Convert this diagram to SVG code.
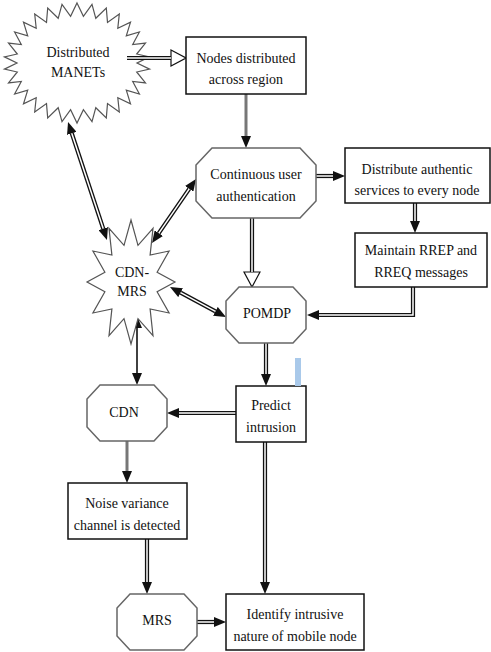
<svg xmlns="http://www.w3.org/2000/svg" width="491" height="652" viewBox="0 0 491 652">
<defs>
<style>
.t{font-family:'Liberation Serif','Times New Roman',serif;font-size:14px;fill:#111;text-anchor:middle}
.box{fill:#fff;stroke:#111;stroke-width:1.5}
.oct{fill:#fff;stroke:#666;stroke-width:1.5}
.star{fill:#fff;stroke:#555;stroke-width:1.2}
.dbl{fill:none;stroke:#111;stroke-width:4.2}
.dbli{fill:none;stroke:#fff;stroke-width:1.5}
.gray{fill:none;stroke:#777;stroke-width:3}
.thin{fill:none;stroke:#111;stroke-width:1.6}
</style>
<marker id="ah" viewBox="0 0 12 10" refX="0" refY="5" markerWidth="12" markerHeight="10" markerUnits="userSpaceOnUse" orient="auto-start-reverse"><path d="M0,0 L12,5 L0,10 z" fill="#111"/></marker>
<marker id="hollow" viewBox="-1 -1 17 18" refX="0" refY="8" markerWidth="17" markerHeight="18" markerUnits="userSpaceOnUse" orient="auto"><path d="M0,0 L15,8 L0,16 z" fill="#fff" stroke="#111" stroke-width="1.2"/></marker>
</defs>
<rect width="491" height="652" fill="#fff"/>

<g id="manets">
<polygon class="star" points="77,3 83.4,16.3 92,4.3 95.8,18.3 106.3,8 107.5,22.4 119.3,14.1 117.8,28.3 130.5,22.2 126.3,35.8 139.4,32 132.7,44.5 145.5,43.1 136.7,54 149.6,56.9 137,63 149.6,69.1 136.7,72 145.5,82.9 132.7,81.5 139.4,94 126.3,90.2 130.5,103.8 117.8,97.7 119.3,111.9 107.5,103.6 106.3,118 95.8,107.7 92,121.7 83.4,109.7 77,123 70.6,109.7 62,121.7 58.2,107.7 47.7,118 46.5,103.6 34.7,111.9 36.2,97.7 23.5,103.8 27.7,90.2 14.6,94 21.3,81.5 8.5,82.9 17.3,72 4.4,69.1 17,63 4.4,56.9 17.3,54 8.5,43.1 21.3,44.5 14.6,32 27.7,35.8 23.5,22.2 36.2,28.3 34.7,14.1 46.5,22.4 47.7,8 58.2,18.3 62,4.3 70.6,16.3"/>
<text class="t" x="78" y="57">Distributed</text>
<text class="t" x="78" y="77">MANETs</text>
</g>

<g id="connectors">
<path class="dbl" d="M127,58 H171" marker-end="url(#hollow)"/><path class="dbli" d="M127,58 H171"/>
<path class="gray" d="M246,94 V136" marker-end="url(#ah)"/>
<path class="dbl" d="M316,176 H333" marker-end="url(#ah)"/><path class="dbli" d="M316,176 H333"/>
<path class="dbl" d="M415,203 V221" marker-end="url(#ah)"/><path class="dbli" d="M415,203 V221"/>
<path class="dbl" d="M413,287 V315 H319" marker-end="url(#ah)"/><path class="dbli" d="M413,287 V315 H319"/>
<path class="dbl" d="M252,218 V272" marker-end="url(#hollow)"/><path class="dbli" d="M252,218 V272"/>
<path class="dbl" d="M266,343 V374" marker-end="url(#ah)"/><path class="dbli" d="M266,343 V374"/>
<path class="dbl" d="M236,413 H179" marker-end="url(#ah)"/><path class="dbli" d="M236,413 H179"/>
<path class="gray" d="M127,441 V471" marker-end="url(#ah)"/>
<path class="dbl" d="M147,539 V582" marker-end="url(#ah)"/><path class="dbli" d="M147,539 V582"/>
<path class="dbl" d="M197,622 H214" marker-end="url(#ah)"/><path class="dbli" d="M197,622 H214"/>
<path class="dbl" d="M265,442 V582" marker-end="url(#ah)"/><path class="dbli" d="M265,442 V582"/>
<path class="dbl" d="M71.8,133.4 L103.2,228.6" marker-start="url(#ah)" marker-end="url(#ah)"/><path class="dbli" d="M71.8,133.4 L103.2,228.6"/>
<path class="dbl" d="M158.8,233.1 L189.2,188.9" marker-start="url(#ah)" marker-end="url(#ah)"/><path class="dbli" d="M158.8,233.1 L189.2,188.9"/>
<path class="dbl" d="M180.6,292.7 L215.4,311.3" marker-start="url(#ah)" marker-end="url(#ah)"/><path class="dbli" d="M180.6,292.7 L215.4,311.3"/>
<path class="thin" d="M137,328 V373" marker-start="url(#ah)" marker-end="url(#ah)"/>
</g>

<g id="nodes-distributed">
<rect class="box" x="186" y="37" width="120" height="57"/>
<text class="t" x="246" y="63">Nodes distributed</text>
<text class="t" x="246" y="84">across region</text>
</g>

<g id="continuous-auth">
<polygon class="oct" points="212,148 300,148 316,165 316,201 300,218 212,218 196,201 196,165"/>
<text class="t" x="256" y="179">Continuous user</text>
<text class="t" x="256" y="201">authentication</text>
</g>

<g id="distribute-services">
<rect class="box" x="345" y="148" width="145" height="55"/>
<text class="t" x="417" y="174">Distribute authentic</text>
<text class="t" x="417" y="195">services to every node</text>
</g>

<g id="maintain-rrep">
<rect class="box" x="355" y="233" width="132" height="54"/>
<text class="t" x="421" y="255">Maintain RREP and</text>
<text class="t" x="421" y="277">RREQ messages</text>
</g>

<g id="cdn-mrs">
<polygon class="star" points="131,220 138,245.3 153,228.3 150.1,255.1 169.1,251 157.1,272.2 175,282 157.1,291.8 169.1,313 150.1,308.9 153,335.7 138,318.7 131,344 124,318.7 109,335.7 111.9,308.9 92.9,313 104.9,291.8 87,282 104.9,272.2 92.9,251 111.9,255.1 109,228.3 124,245.3"/>
<text class="t" x="132" y="277">CDN-</text>
<text class="t" x="132" y="296">MRS</text>
</g>

<g id="pomdp">
<polygon class="oct" points="239,287 293,287 306,301 306,329 293,343 239,343 226,329 226,301"/>
<text class="t" x="267" y="318">POMDP</text>
</g>

<g id="predict-intrusion">
<rect class="box" x="236" y="386" width="70" height="56"/>
<text class="t" x="271" y="410">Predict</text>
<text class="t" x="271" y="432">intrusion</text>
</g>

<rect x="295" y="358" width="6" height="28" fill="#a9c9ea"/>

<g id="cdn">
<polygon class="oct" points="100,385 154,385 167,399 167,427 154,441 100,441 87,427 87,399"/>
<text class="t" x="124" y="417">CDN</text>
</g>

<g id="noise-variance">
<rect class="box" x="68" y="483" width="119" height="56"/>
<text class="t" x="127" y="508">Noise variance</text>
<text class="t" x="127" y="530">channel is detected</text>
</g>

<g id="mrs">
<polygon class="oct" points="130,594 184,594 197,608 197,636 184,650 130,650 117,636 117,608"/>
<text class="t" x="157" y="625">MRS</text>
</g>

<g id="identify-intrusive">
<rect class="box" x="226" y="594" width="138" height="56"/>
<text class="t" x="295" y="619">Identify intrusive</text>
<text class="t" x="295" y="641">nature of mobile node</text>
</g>
</svg>
